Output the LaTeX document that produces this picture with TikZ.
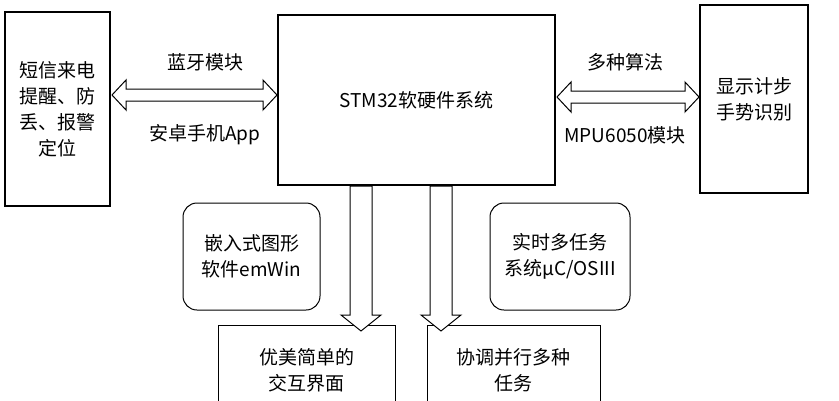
\documentclass[tikz,border=0pt]{standalone}
\usepackage{fontspec}
\setmainfont{Noto Sans CJK SC}
\begin{document}
\begin{tikzpicture}[x=1pt,y=-1pt,
  box/.style={draw,line width=2pt,inner sep=0pt,align=center,font=\fontsize{19}{26}\selectfont},
  rbox/.style={draw,line width=1pt,rounded corners=14pt,inner sep=0pt,align=center,font=\fontsize{19}{26}\selectfont},
  lbl/.style={font=\fontsize{19}{24}\selectfont,inner sep=0pt},
  hollow/.style={draw,line width=1pt,fill=white}]
\useasboundingbox (0,0) rectangle (839,400);
\begin{scope}
\clip (0,0) rectangle (839,400);
\node[box,minimum width=105pt,minimum height=194pt] (L) at (57.5,109) {短信来电\\提醒、防\\丢、报警\\定位};
\node[box,minimum width=277pt,minimum height=170pt] (C) at (416.5,100) {STM32软硬件系统};
\node[box,minimum width=108pt,minimum height=188pt] (R) at (754,99) {显示计步\\手势识别};
\node[lbl] (t1) at (205,62) {蓝牙模块};
\node[lbl] (t2) at (205,135) {安卓手机App};
\node[lbl] (t3) at (625,62) {多种算法};
\node[lbl] (t4) at (625,135) {MPU6050模块};
\node[rbox,minimum width=137pt,minimum height=107pt] (E) at (251.5,256.5) {嵌入式图形\\软件emWin};
\node[rbox,minimum width=140pt,minimum height=107pt] (U) at (560,256.5) {实时多任务\\系统μC/OSIII};
\node[box,line width=1pt,minimum width=177pt,minimum height=90pt,anchor=north] (B1) at (306.5,325) {优美简单的\\交互界面};
\node[box,line width=1pt,minimum width=173pt,minimum height=90pt,anchor=north] (B2) at (513.5,325) {协调并行多种\\任务};
% horizontal double arrows
\foreach \xa/\xb/\cy in {112/277/95, 557/699/97}{
  \draw[hollow] (\xa,\cy) -- (\xa+14,\cy-15) -- (\xa+14,\cy-6) -- (\xb-14,\cy-6) -- (\xb-14,\cy-15) -- (\xb,\cy)
    -- (\xb-14,\cy+15) -- (\xb-14,\cy+6) -- (\xa+14,\cy+6) -- (\xa+14,\cy+15) -- cycle;
}
\foreach \cx in {361,441}{
  \draw[hollow] (\cx-11,186) -- (\cx+11,186) -- (\cx+11,315) -- (\cx+20,315) -- (\cx,331) -- (\cx-20,315) -- (\cx-11,315) -- cycle;
}
\end{scope}
\end{tikzpicture}
\end{document}
